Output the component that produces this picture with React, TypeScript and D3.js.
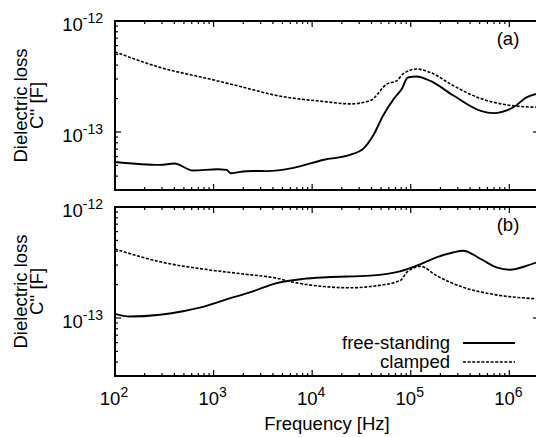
import React from "react";
import * as d3 from "d3";

// ---- data (frequency in Hz, C'' in F) ----
const topClampedF = [100, 286, 912, 2000, 4370, 13200, 24500, 38900, 57500, 72400, 83200, 115000, 158000, 269000, 513000, 955000, 1860000];
const topClampedC = [5.27e-13, 3.82e-13, 3.0e-13, 2.53e-13, 2.13e-13, 1.88e-13, 1.79e-13, 1.92e-13, 2.71e-13, 2.9e-13, 3.33e-13, 3.69e-13, 3.44e-13, 2.62e-13, 2.0e-13, 1.75e-13, 1.67e-13];

const topFreeF = [100, 286, 400, 617, 1100, 1350, 1500, 1800, 2500, 3470, 6460, 13200, 24500, 33100, 41700, 52500, 67600, 81300, 93300, 115000, 158000, 269000, 513000, 692000, 1100000, 1510000, 1860000];
const topFreeC = [5.37e-14, 5.05e-14, 5.2e-14, 4.5e-14, 4.62e-14, 4.55e-14, 4.25e-14, 4.35e-14, 4.45e-14, 4.44e-14, 4.75e-14, 5.62e-14, 6.25e-14, 7.08e-14, 9.33e-14, 1.41e-13, 2.0e-13, 2.45e-13, 3.1e-13, 3.16e-13, 2.88e-13, 2.14e-13, 1.55e-13, 1.48e-13, 1.67e-13, 2.06e-13, 2.2e-13];

const botClampedF = [100, 286, 912, 2000, 4370, 6460, 13200, 24500, 38900, 77600, 93300, 126000, 182000, 339000, 692000, 1860000];
const botClampedC = [4.18e-13, 3.21e-13, 2.71e-13, 2.49e-13, 2.28e-13, 2.1e-13, 1.92e-13, 1.87e-13, 1.92e-13, 2.17e-13, 2.63e-13, 2.92e-13, 2.41e-13, 1.89e-13, 1.63e-13, 1.49e-13];

const botFreeF = [100, 141, 286, 490, 724, 1350, 2510, 4370, 8130, 14100, 38900, 77600, 126000, 182000, 269000, 339000, 513000, 741000, 1020000, 1510000, 1860000];
const botFreeC = [1.09e-13, 1.03e-13, 1.07e-13, 1.15e-13, 1.24e-13, 1.47e-13, 1.74e-13, 2.06e-13, 2.25e-13, 2.33e-13, 2.41e-13, 2.63e-13, 3.06e-13, 3.52e-13, 3.89e-13, 4.04e-13, 3.4e-13, 2.86e-13, 2.72e-13, 2.96e-13, 3.16e-13];

const xTickExps = [2, 3, 4, 5, 6];
const yTickExps = [-12, -13];
const panelLabels = ["(a)", "(b)"];
const seriesNames = ["free-standing", "clamped"];

const W = 536, H = 437;
const left = 115, right = 539;
const panels = [
  { top: 21, bottom: 190 },
  { top: 207, bottom: 376 },
];
const FONT = "'Liberation Sans', Arial, Helvetica, sans-serif";
const DASH = "3,1.6";

const x = d3.scaleLog().domain([100, 2e6]).range([left, right]);

function Panel({ idx, free, clamped }: { idx: number; free: [number, number][]; clamped: [number, number][] }) {
  const { top, bottom } = panels[idx];
  const y = d3.scaleLog().domain([3.0e-14, 1e-12]).range([bottom, top]);
  const line = d3
    .line<[number, number]>()
    .x((d) => x(d[0]))
    .y((d) => y(d[1]))
    .curve(d3.curveMonotoneX);
  const clipId = `clip${idx}`;

  const xTicks: { v: number; major: boolean }[] = [];
  for (let e = 2; e <= 6; e++) {
    for (let m = 1; m <= 9; m++) {
      const v = m * Math.pow(10, e);
      if (v <= 2e6) xTicks.push({ v, major: m === 1 });
    }
  }
  const yTicks: { v: number; major: boolean }[] = [];
  for (let e = -14; e <= -13; e++) {
    for (let m = 1; m <= 9; m++) {
      const v = m * Math.pow(10, e);
      if (v >= 3.0e-14 && v <= 1e-12) yTicks.push({ v, major: m === 1 });
    }
  }
  yTicks.push({ v: 1e-12, major: true });

  const midY = (top + bottom) / 2;

  return (
    <g>
      <defs>
        <clipPath id={clipId}>
          <rect x={left} y={top} width={right - left} height={bottom - top} />
        </clipPath>
      </defs>
      {xTicks.map((t, i) => {
        const len = t.major ? 6 : 3;
        const xx = x(t.v);
        return (
          <g key={"xt" + i} stroke="#000" strokeWidth={1.2}>
            <line x1={xx} x2={xx} y1={bottom} y2={bottom - len} />
            <line x1={xx} x2={xx} y1={top} y2={top + len} />
          </g>
        );
      })}
      {yTicks.map((t, i) => {
        const len = t.major ? 6 : 3;
        const yy = y(t.v);
        return (
          <g key={"yt" + i} stroke="#000" strokeWidth={1.2}>
            <line x1={left} x2={left + len} y1={yy} y2={yy} />
            <line x1={right} x2={right - len} y1={yy} y2={yy} />
          </g>
        );
      })}
      {yTickExps.map((e) => (
        <text key={"yl" + e} x={103} y={y(Math.pow(10, e)) + 10} textAnchor="end" fontFamily={FONT} fontSize={18.5}>
          10
          <tspan fontSize={14} dy={-8}>{e}</tspan>
        </text>
      ))}
      <text transform={`translate(27,${midY}) rotate(-90)`} textAnchor="middle" fontFamily={FONT} fontSize={18.5}>
        Dielectric loss
      </text>
      <text transform={`translate(43,${midY}) rotate(-90)`} textAnchor="middle" fontFamily={FONT} fontSize={18.5}>
        C'' [F]
      </text>
      <g clipPath={`url(#${clipId})`} fill="none" stroke="#000">
        <path d={line(clamped) || ""} strokeWidth={1.6} strokeDasharray={DASH} />
        <path d={line(free) || ""} strokeWidth={1.9} />
      </g>
      <rect x={left} y={top} width={right - left} height={bottom - top} fill="none" stroke="#000" strokeWidth={2} />
      <text x={508} y={top + 24} textAnchor="middle" fontFamily={FONT} fontSize={18.5}>
        {panelLabels[idx]}
      </text>
    </g>
  );
}

export default function App() {
  const zip = (f: number[], c: number[]) => f.map((v, i) => [v, c[i]] as [number, number]);
  const legendY = [343, 362];
  return (
    <svg width={W} height={H} style={{ position: "absolute", left: 0, top: 0, background: "#fff" }}>
      <rect width={W} height={H} fill="#fff" />
      <Panel idx={0} free={zip(topFreeF, topFreeC)} clamped={zip(topClampedF, topClampedC)} />
      <Panel idx={1} free={zip(botFreeF, botFreeC)} clamped={zip(botClampedF, botClampedC)} />
      {xTickExps.map((e) => (
        <text key={"xl" + e} x={x(Math.pow(10, e)) - 1} y={405} textAnchor="middle" fontFamily={FONT} fontSize={18.5}>
          10
          <tspan fontSize={14} dy={-8}>{e}</tspan>
        </text>
      ))}
      <text x={327} y={430} textAnchor="middle" fontFamily={FONT} fontSize={18.5}>
        Frequency [Hz]
      </text>
      {seriesNames.map((n, i) => (
        <g key={n}>
          <text x={450} y={legendY[i] + 5.5} textAnchor="end" fontFamily={FONT} fontSize={18.5}>
            {n}
          </text>
          <line x1={463} x2={515} y1={legendY[i]} y2={legendY[i]} stroke="#000" strokeWidth={i === 0 ? 1.9 : 1.6} strokeDasharray={i === 0 ? undefined : DASH} />
        </g>
      ))}
    </svg>
  );
}
